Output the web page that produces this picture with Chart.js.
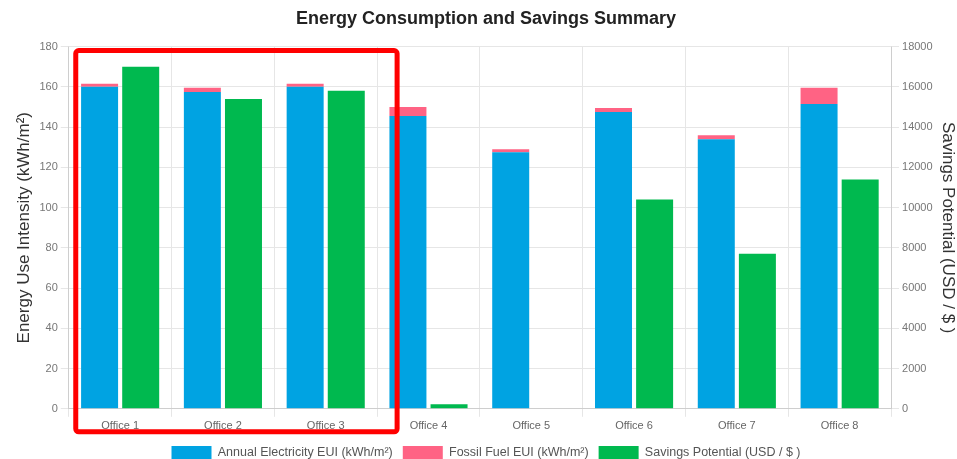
<!DOCTYPE html>
<html>
<head>
<meta charset="utf-8">
<script src="https://cdn.jsdelivr.net/npm/chart.js@4.4.0/dist/chart.umd.min.js"></script>
<style>
    html, body { margin: 0; padding: 0; background: #fff; }
    #wrap { width: 957px; height: 459px; }
</style>
</head>
<body>
<div id="wrap"><canvas id="myChart"></canvas></div>
<script>
    var offices = ["Office 1", "Office 2", "Office 3", "Office 4", "Office 5", "Office 6", "Office 7", "Office 8"];
    var electricityEui = [160, 157.5, 160, 145.5, 127.5, 147.5, 134, 151.5];
    var fossilEui = [1.5, 2, 1.5, 4.5, 1.5, 2, 2, 8];
    var savingsUsd = [17000, 15400, 15800, 230, 0, 10400, 7700, 11400];

    var euiTicks = { min: 0, max: 180, step: 20 };
    var savingsTicks = { min: 0, max: 18000, step: 2000 };

    function listColor() {
        return ["#00a3e2", "#ff6384", "#00b94f"];
    }

    // red box drawn over the first three offices
    var highlightBox = {
        id: 'highlightBox',
        afterDraw: function (chart) {
            var ctx = chart.ctx;
            var x = chart.scales.x;
            var y = chart.scales.y;
            var area = chart.chartArea;
            var half = (x.getPixelForValue(1) - x.getPixelForValue(0)) / 2;
            var left = x.getPixelForValue(0) - half + 7;
            var right = x.getPixelForValue(2) + half + 20;
            var top = y.getPixelForValue(178);
            var bottom = area.bottom + 23;
            ctx.save();
            ctx.strokeStyle = '#ff0000';
            ctx.lineWidth = 5;
            ctx.beginPath();
            ctx.roundRect(left, top, right - left, bottom - top, 3);
            ctx.stroke();
            ctx.restore();
        }
    };

    var colors = listColor();
    Chart.defaults.font.family = "'Liberation Sans', Arial, sans-serif";

    new Chart("myChart", {
        type: "bar",
        data: {
            labels: offices,
            datasets: [{
                label: "Annual Electricity EUI (kWh/m²)",
                data: electricityEui,
                backgroundColor: colors[0],
                stack: "eui",
                yAxisID: "y"
            }, {
                label: "Fossil Fuel EUI (kWh/m²)",
                data: fossilEui,
                backgroundColor: colors[1],
                stack: "eui",
                yAxisID: "y"
            }, {
                label: "Savings Potential (USD / $ )",
                data: savingsUsd,
                backgroundColor: colors[2],
                stack: "savings",
                yAxisID: "y1"
            }]
        },
        options: {
            responsive: true,
            maintainAspectRatio: false,
            animation: false,
            layout: { padding: { left: 12, right: -3, top: 0, bottom: -10 } },
            plugins: {
                title: {
                    display: true,
                    text: "Energy Consumption and Savings Summary",
                    color: "#222",
                    font: { size: 18, weight: "bold" },
                    padding: { top: 8, bottom: 17 }
                },
                legend: {
                    position: "bottom",
                    labels: {
                        color: "#555",
                        font: { size: 12.5 },
                        boxWidth: 40,
                        boxHeight: 13
                    }
                },
                tooltip: { enabled: false }
            },
            scales: {
                x: {
                    stacked: true,
                    ticks: { color: "#666", font: { size: 11 } },
                    grid: { color: "#e6e6e6" }
                },
                y: {
                    stacked: true,
                    position: "left",
                    min: euiTicks.min,
                    max: euiTicks.max,
                    ticks: { stepSize: euiTicks.step, color: "#777", font: { size: 11 } },
                    grid: { color: "#e6e6e6" },
                    title: {
                        display: true,
                        text: "Energy Use Intensity (kWh/m²)",
                        color: "#333",
                        font: { size: 17 },
                        padding: { top: 2, bottom: 2 }
                    }
                },
                y1: {
                    position: "right",
                    min: savingsTicks.min,
                    max: savingsTicks.max,
                    ticks: {
                        stepSize: savingsTicks.step,
                        color: "#777",
                        font: { size: 11 },
                        callback: function (value) { return String(value); }
                    },
                    grid: { drawOnChartArea: false, color: "#e6e6e6" },
                    title: {
                        display: true,
                        text: "Savings Potential (USD / $ )",
                        color: "#333",
                        font: { size: 17 },
                        padding: { top: 2, bottom: 2 }
                    }
                }
            }
        },
        plugins: [highlightBox]
    });
</script>
</body>
</html>
